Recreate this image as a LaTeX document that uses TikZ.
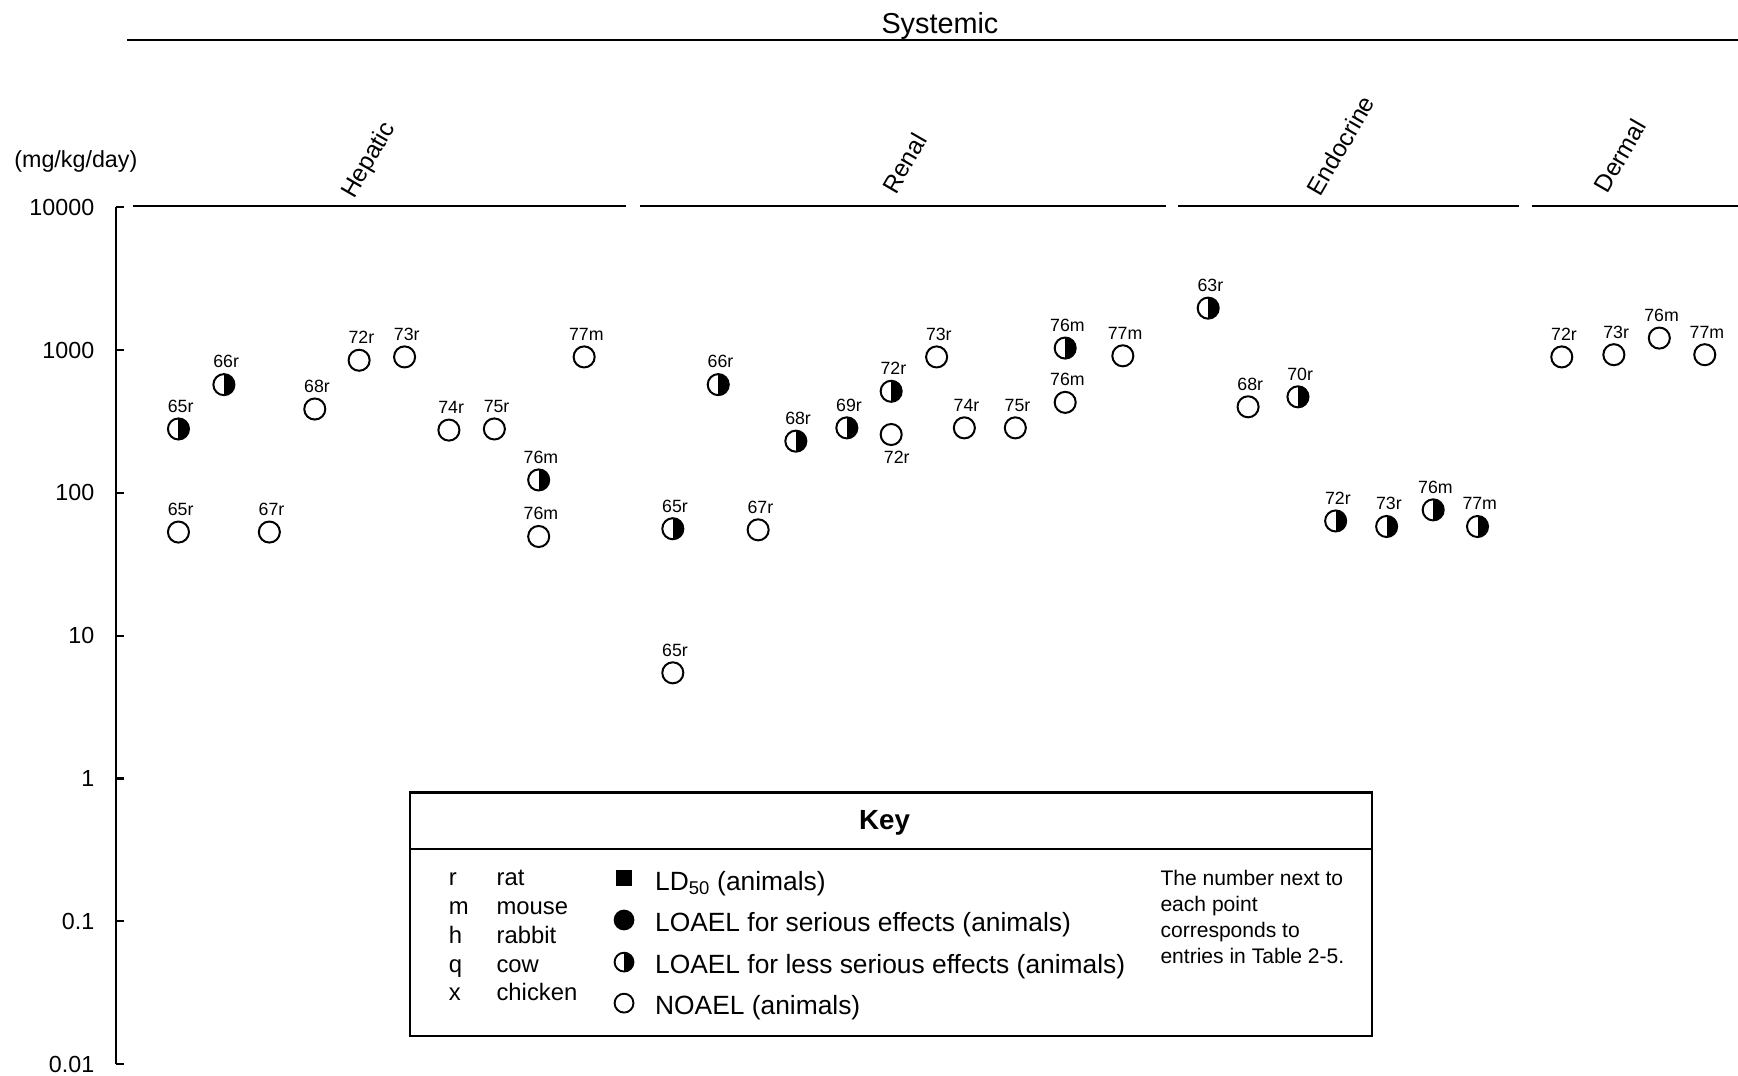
\documentclass[tikz,border=0pt]{standalone}
\usepackage{fontspec}
\setmainfont{Liberation Sans}
\begin{document}
\begin{tikzpicture}[x=1pt,y=-1pt,line cap=butt,line join=miter,line width=2pt,label distance=3.5pt]
	\tikzset{ptlbl/.style={font=\fontsize{16}{18}\selectfont,inner sep=0pt,xshift=2pt},
		axlbl/.style={font=\fontsize{21}{24}\selectfont,anchor=east,inner sep=0pt},
		seclbl/.style={font=\fontsize{22}{24}\selectfont,rotate=60,anchor=base west,inner sep=0pt},
		keyl/.style={font=\fontsize{21.5}{24}\selectfont,anchor=base west,inner sep=0pt},
		keym/.style={font=\fontsize{23.8}{26}\selectfont,anchor=base west,inner sep=0pt},
		mk/.style={circle,draw,fill=white,line width=1.8pt,minimum size=19pt,inner sep=0pt},
		noael/.style={mk},
		halfdot/.style={mk,path picture={\fill[black] (path picture bounding box.north) rectangle (path picture bounding box.south east);}},
		fulldot/.style={mk,fill=black},
		ldsq/.style={rectangle,fill=black,minimum size=15pt,inner sep=0pt},
		keymk/.style={minimum size=17pt,line width=1.7pt}}
	\useasboundingbox (0,0) rectangle (1568,970);
	% titles and group lines
	\node[font=\fontsize{26}{28}\selectfont,anchor=base,inner sep=0pt] (sys) at (848,30) {Systemic};
	\draw (115,36)--(1568,36);
	\node[font=\fontsize{21}{24}\selectfont,anchor=base west,inner sep=0pt] (unit) at (12,151) {(mg/kg/day)};
	\draw (120,186)--(565,186);
	\draw (577,186)--(1052,186);
	\draw (1063,186)--(1370,186);
	\draw (1382,186)--(1568,186);
	\node[seclbl] (hep) at (319,181) {Hepatic};
	\node[seclbl] (ren) at (808,177) {Renal};
	\node[seclbl] (endo) at (1191,179) {Endocrine};
	\node[seclbl] (derm) at (1450,176) {Dermal};
	% log axis
	\draw (105,187)--(105,960);
	\foreach \lab [count=\i from 0] in {10000,1000,100,10,1,0.1,0.01}{
		\draw (105,{187+128.83*\i})--++(7,0);
		\node[axlbl] (y\i) at (86,{187+128.83*\i}) {\lab};}
	% Hepatic
	\foreach \px/\py/\lbl/\kind [count=\k] in {161/387/65r/halfdot,161/480/65r/noael,202/347/66r/halfdot,
		243/480/67r/noael,284/369/68r/noael,324/325/72r/noael,365/322/73r/noael,405/388/74r/noael,
		446/387/75r/noael,486/433/76m/halfdot,486/484/76m/noael,527/322/77m/noael}
		\node[\kind,label={[ptlbl]above:\lbl}] (h\k) at (\px,\py) {};
	% Renal
	\foreach \px/\py/\lbl/\kind [count=\k] in {607/477/65r/halfdot,607/607/65r/noael,648/347/66r/halfdot,
		684/478/67r/noael,718/398/68r/halfdot,764/386/69r/halfdot,804/353/72r/halfdot,845/322/73r/noael,
		870/386/74r/noael,916/386/75r/noael,961/314/76m/halfdot,961/363/76m/noael,1013/321/77m/noael}
		\node[\kind,label={[ptlbl]above:\lbl}] (r\k) at (\px,\py) {};
	\node[noael,label={[ptlbl,xshift=3pt]below:72r}] (r14) at (804,392) {};
	% Endocrine
	\foreach \px/\py/\lbl/\kind [count=\k] in {1090/278/63r/halfdot,1126/367/68r/noael,1171/358/70r/halfdot,
		1205/470/72r/halfdot,1251/475/73r/halfdot,1293/460/76m/halfdot,1333/475/77m/halfdot}
		\node[\kind,label={[ptlbl]above:\lbl}] (e\k) at (\px,\py) {};
	% Dermal
	\foreach \px/\py/\lbl/\kind [count=\k] in {1409/322/72r/noael,1456/320/73r/noael,1497/305/76m/noael,1538/320/77m/noael}
		\node[\kind,label={[ptlbl]above:\lbl}] (d\k) at (\px,\py) {};
	% key
	\draw (370,715) rectangle (1238,935);
	\draw (370,766)--(1238,766);
	\node[font=\fontsize{25}{28}\selectfont\bfseries] (keyttl) at (798,742) {Key};
	\foreach \ab/\an [count=\k] in {r/rat,m/mouse,h/rabbit,q/cow,x/chicken}{
		\node[keyl] (ab\k) at (404,{773+26*\k}) {\ab};
		\node[keyl] (an\k) at (447,{773+26*\k}) {\an};}
	\node[ldsq] (kld) at (563,792) {};
	\node[fulldot,keymk] (kser) at (563,830) {};
	\node[halfdot,keymk] (kless) at (563,868) {};
	\node[noael,keymk] (kno) at (563,905) {};
	\node[keym] (tld) at (590,803) {LD\textsubscript{50} (animals)};
	\node[keym] (tser) at (590,840) {LOAEL for serious effects (animals)};
	\node[keym] (tless) at (590,878) {LOAEL for less serious effects (animals)};
	\node[keym] (tno) at (590,915) {NOAEL (animals)};
	\node[font=\fontsize{19}{23.5}\selectfont,anchor=north west,align=left,inner sep=0pt] (note) at (1046,784)
		{The number next to\\each point\\corresponds to\\entries in Table 2-5.};
\end{tikzpicture}
\end{document}
